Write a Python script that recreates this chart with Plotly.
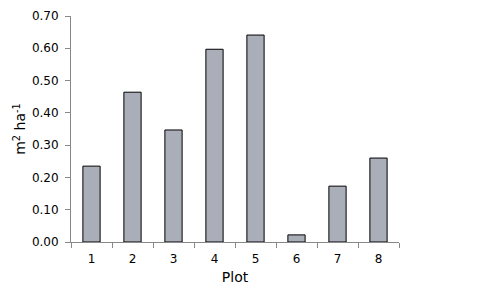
import plotly.graph_objects as go

plots = ["1", "2", "3", "4", "5", "6", "7", "8"]
values = [0.235, 0.464, 0.347, 0.597, 0.641, 0.022, 0.173, 0.260]
y_ticks = [0.0, 0.1, 0.2, 0.3, 0.4, 0.5, 0.6, 0.7]
y_tick_labels = ["0.00", "0.10", "0.20", "0.30", "0.40", "0.50", "0.60", "0.70"]

fig = go.Figure(go.Bar(
    x=plots, y=values,
    marker=dict(color="#A9AEB9", line=dict(color="black", width=1)),
    width=0.42,
))

font = dict(family="DejaVu Sans, Verdana, sans-serif", size=12, color="black")
# page body has an 8px default margin, so the figure is shrunk by 8px on each axis
fig.update_layout(
    width=496, height=296,
    margin=dict(l=63, r=105, t=8, b=62),
    paper_bgcolor="white", plot_bgcolor="white",
    font=font,
    showlegend=False,
    xaxis=dict(
        type="category", range=[-0.5, 7.5],
        showline=True, linecolor="#888888", linewidth=1,
        ticks="outside", ticklen=5, tickcolor="#888888",
        tickson="boundaries", automargin=False,
        ticklabelstandoff=6,
        showgrid=False, zeroline=False,
        title=dict(text="Plot", standoff=6),
    ),
    yaxis=dict(
        range=[0, 0.7], automargin=False,
        tickvals=y_ticks, ticktext=y_tick_labels,
        showline=True, linecolor="#888888", linewidth=1,
        ticks="outside", ticklen=5, tickcolor="#888888",
        ticklabelstandoff=4,
        showgrid=False, zeroline=False,
        title=dict(text="m<sup>2</sup> ha<sup>-1</sup>", standoff=2),
    ),
)

fig.write_html("out.html")
